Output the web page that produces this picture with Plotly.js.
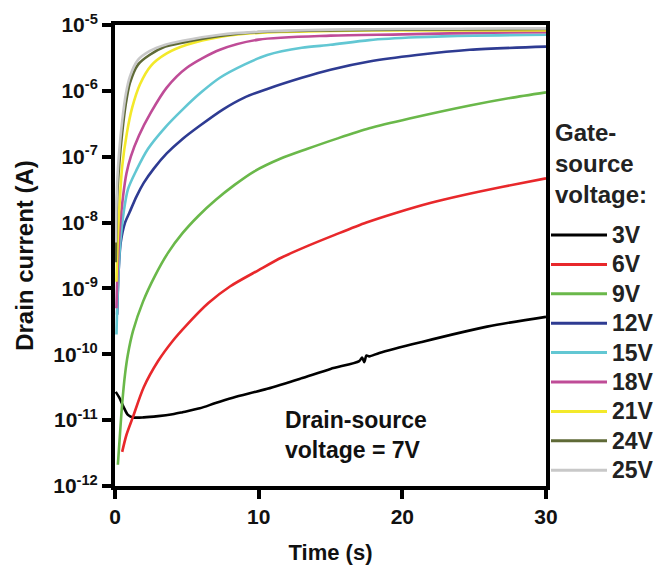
<!DOCTYPE html>
<html>
<head>
<meta charset="utf-8">
<script src="https://cdn.plot.ly/plotly-3.0.1.min.js"></script>
<style>
  html, body { margin: 0; padding: 0; background: #ffffff; }
  #chart { width: 656px; height: 569px; }
</style>
</head>
<body>
<div id="chart"></div>
<script>
// Gate-source voltage labels and line colours
const gateVoltages = ['3V', '6V', '9V', '12V', '15V', '18V', '21V', '24V', '25V'];
const lineColors = ['#000000', '#e8282b', '#6ab84a', '#2e3b92', '#62c7d3', '#bf4c97', '#f3e92a', '#5f6a37', '#c8c8c8'];

// Drain current (A) versus time (s), one pair of arrays per gate-source voltage
const t3V  = [0.05, 0.3, 0.6, 0.9, 1.25, 2, 3, 4, 4.7, 5.9, 7, 8.2, 10.6, 12.9, 15, 17.0, 17.2, 17.35, 17.5, 17.7, 18.4, 21.2, 25.9, 30];
const i3V  = [2.69e-11, 2.19e-11, 1.58e-11, 1.2e-11, 1.1e-11, 1.1e-11, 1.15e-11, 1.23e-11, 1.32e-11, 1.51e-11, 1.82e-11, 2.19e-11, 3.0e-11, 4.27e-11, 6.0e-11, 7.9e-11, 8.9e-11, 7.6e-11, 9.6e-11, 9.3e-11, 1.05e-10, 1.51e-10, 2.63e-10, 3.7e-10];

const t6V  = [0.5, 0.8, 1.25, 2, 3, 4, 5, 6.5, 8, 10, 11.6, 13.5, 15.3, 17.5, 19.6, 22, 24.2, 27, 30];
const i6V  = [3.3e-12, 6.0e-12, 1.12e-11, 3.16e-11, 7.9e-11, 1.58e-10, 2.8e-10, 6.0e-10, 1.07e-9, 1.9e-9, 2.95e-9, 4.5e-9, 6.5e-9, 1.0e-8, 1.41e-8, 2.0e-8, 2.6e-8, 3.5e-8, 4.7e-8];

const t9V  = [0.2, 0.35, 0.5, 0.7, 0.9, 1.25, 1.95, 2.8, 3.7, 4.7, 5.8, 7.0, 8.3, 9.7, 11.5, 13.4, 15.5, 17.7, 20.5, 24.7, 27.5, 30];
const i9V  = [2.1e-12, 6.3e-12, 1.78e-11, 5.0e-11, 1.0e-10, 2.24e-10, 6.3e-10, 1.58e-9, 3.5e-9, 6.9e-9, 1.26e-8, 2.2e-8, 3.7e-8, 6.0e-8, 9.3e-8, 1.32e-7, 1.9e-7, 2.7e-7, 3.8e-7, 6.0e-7, 7.8e-7, 9.5e-7];

const t12V = [0.15, 0.25, 0.4, 0.7, 1.0, 1.5, 2.0, 2.7, 3.6, 4.7, 5.9, 7.5, 9, 10.6, 13, 15, 17.7, 21, 24.7, 30];
const i12V = [4.0e-10, 1.78e-9, 5.0e-9, 1.0e-8, 1.41e-8, 2.5e-8, 4.0e-8, 6.6e-8, 1.12e-7, 1.86e-7, 2.95e-7, 5.2e-7, 7.9e-7, 1.07e-6, 1.58e-6, 2.1e-6, 2.8e-6, 3.5e-6, 4.2e-6, 4.7e-6];

const t15V = [0.1, 0.2, 0.35, 0.6, 0.9, 1.5, 2.3, 3.5, 4.7, 6, 7.3, 9, 10.6, 13, 15, 17.7, 21, 25, 30];
const i15V = [2.0e-10, 1.0e-9, 4.5e-9, 1.41e-8, 3.2e-8, 6.3e-8, 1.32e-7, 2.8e-7, 5.2e-7, 9.5e-7, 1.58e-6, 2.5e-6, 3.5e-6, 4.5e-6, 5.0e-6, 5.9e-6, 6.5e-6, 6.9e-6, 7.1e-6];

const t18V = [0.1, 0.2, 0.35, 0.56, 0.8, 1.1, 1.67, 2.5, 3.6, 5, 7.3, 10, 15, 20, 25, 30];
const i18V = [5.0e-10, 2.5e-9, 8.9e-9, 2.5e-8, 5.6e-8, 1.0e-7, 2.1e-7, 4.7e-7, 1.12e-6, 2.24e-6, 4.2e-6, 6.0e-6, 6.9e-6, 7.2e-6, 7.6e-6, 7.8e-6];

const t21V = [0.1, 0.2, 0.35, 0.5, 0.83, 1.2, 1.74, 2.5, 3.6, 5, 7.3, 10, 15, 20, 30];
const i21V = [1.26e-9, 6.3e-9, 2.5e-8, 7.1e-8, 2.3e-7, 5.6e-7, 1.26e-6, 2.4e-6, 3.7e-6, 5.0e-6, 6.6e-6, 7.6e-6, 8.1e-6, 8.3e-6, 8.3e-6];

const t24V = [0.05, 0.15, 0.3, 0.5, 0.75, 1.04, 1.6, 2.4, 3.5, 4.7, 7.3, 10, 15, 20, 30];
const i24V = [2.5e-9, 2.5e-8, 7.9e-8, 2.3e-7, 6.3e-7, 1.32e-6, 2.5e-6, 3.5e-6, 4.7e-6, 5.4e-6, 6.8e-6, 7.8e-6, 8.3e-6, 8.5e-6, 8.7e-6];

const t25V = [0.05, 0.15, 0.3, 0.5, 0.75, 1.04, 1.6, 2.4, 3.5, 4.7, 7.3, 10, 15, 20, 30];
const i25V = [5.0e-9, 4.0e-8, 1.26e-7, 3.5e-7, 8.9e-7, 1.66e-6, 2.95e-6, 4.0e-6, 5.0e-6, 5.75e-6, 7.1e-6, 7.9e-6, 8.5e-6, 8.7e-6, 8.9e-6];

const timeSeries = [t3V, t6V, t9V, t12V, t15V, t18V, t21V, t24V, t25V];
const currentSeries = [i3V, i6V, i9V, i12V, i15V, i18V, i21V, i24V, i25V];

// Axis ticks
const timeTicks = [0, 10, 20, 30];
const currentTicks = [1e-12, 1e-11, 1e-10, 1e-9, 1e-8, 1e-7, 1e-6, 1e-5];
const currentTickText = ['10<sup>-12</sup>', '10<sup>-11</sup>', '10<sup>-10</sup>', '10<sup>-9</sup>',
                         '10<sup>-8</sup>', '10<sup>-7</sup>', '10<sup>-6</sup>', '10<sup>-5</sup>'];

const FONT = 'Liberation Sans, Arial, sans-serif';

const traces = gateVoltages.map((name, k) => ({
  type: 'scatter',
  mode: 'lines',
  name: name,
  x: timeSeries[k],
  y: currentSeries[k],
  line: { color: lineColors[k], width: 2.6, shape: 'spline', smoothing: 0.8 },
  showlegend: false,
  hoverinfo: 'x+y+name'
}));

// Plot area in pixels: left 115, right 546, top 25, bottom 486
const W = 656, H = 569, L = 115, R = 546, T = 25, B = 486;
const px = v => (v - L) / (R - L);
const py = v => (B - v) / (B - T);

// Hand-built key to the right of the frame
const keyShapes = [];
const keyLabels = [];
gateVoltages.forEach((name, k) => {
  const rowY = py(235 + k * 29.4);
  keyShapes.push({
    type: 'line', xref: 'paper', yref: 'paper',
    x0: px(551), x1: px(607), y0: rowY, y1: rowY,
    line: { color: lineColors[k], width: 3 }
  });
  keyLabels.push({
    xref: 'paper', yref: 'paper', x: px(610), y: rowY,
    xanchor: 'left', yanchor: 'middle', showarrow: false,
    text: name, font: { family: FONT, size: 23, weight: 'bold', color: '#222222' }
  });
});

const annotations = keyLabels.concat([
  {
    xref: 'paper', yref: 'paper', x: px(553), y: py(163),
    xanchor: 'left', yanchor: 'middle', align: 'left', showarrow: false,
    text: 'Gate-<br>source<br>voltage:',
    font: { family: FONT, size: 24, weight: 'bold', color: '#222222' }
  },
  {
    xref: 'paper', yref: 'paper', x: px(283), y: py(435),
    xanchor: 'left', yanchor: 'middle', align: 'left', showarrow: false,
    text: 'Drain-source<br>voltage = 7V',
    font: { family: FONT, size: 23, weight: 'bold', color: '#111111' }
  }
]);

const layout = {
  width: W, height: H,
  margin: { l: L, r: W - R, t: T, b: H - B, pad: 0 },
  paper_bgcolor: '#ffffff', plot_bgcolor: '#ffffff',
  showlegend: false,
  font: { family: FONT, color: '#111111' },
  xaxis: {
    range: [0, 30],
    tickvals: timeTicks,
    ticks: 'outside', ticklen: 9, tickwidth: 4, tickcolor: '#000000',
    showline: true, linewidth: 4, linecolor: '#000000', mirror: true,
    showgrid: false, zeroline: false,
    tickfont: { family: FONT, size: 21, weight: 'bold', color: '#111111' },
    title: { text: 'Time (s)', standoff: 18, font: { family: FONT, size: 22, weight: 'bold', color: '#111111' } },
    automargin: false
  },
  yaxis: {
    type: 'log',
    range: [-12, -5],
    tickvals: currentTicks,
    ticktext: currentTickText,
    ticks: 'outside', ticklen: 9, tickwidth: 4, tickcolor: '#000000',
    showline: true, linewidth: 4, linecolor: '#000000', mirror: true,
    showgrid: false, zeroline: false,
    tickfont: { family: FONT, size: 21, weight: 'bold', color: '#111111' },
    title: { text: 'Drain current (A)', standoff: 14, font: { family: FONT, size: 24, weight: 'bold', color: '#111111' } },
    automargin: false
  },
  shapes: keyShapes,
  annotations: annotations
};

Plotly.newPlot('chart', traces, layout, { displayModeBar: false, staticPlot: true });
</script>
</body>
</html>
